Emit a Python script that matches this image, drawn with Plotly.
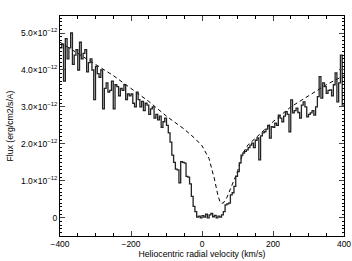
import plotly.graph_objects as go

# Observed spectrum: 5 km/s bins starting at -400 km/s; flux in units of 1e-12 erg/cm2/s/A
bin_width = 5
vel_start = -400
flux_e12 = [
    # -400 .. -300
    4.6, 4.7, 3.7, 4.85, 4.3, 4.6, 5.0, 4.15, 4.4, 4.55,
    4.0, 4.75, 4.3, 4.45, 4.55, 3.95, 4.2, 4.3, 4.0, 3.2,
    # -300 .. -200
    4.1, 3.9, 3.8, 4.0, 2.95, 3.5, 3.65, 3.4, 3.45, 3.7,
    2.95, 3.6, 3.55, 3.3, 3.5, 3.45, 3.6, 3.2, 3.35, 3.3,
    # -200 .. -100
    3.35, 3.1, 3.0, 3.4, 3.2, 3.0, 3.15, 2.9, 3.1, 3.05,
    2.8, 2.95, 3.0, 2.7, 2.8, 2.65, 2.75, 2.45, 2.6, 2.7,
    # -100 .. 0
    2.5, 2.3, 2.05, 1.7, 1.5, 1.32, 1.3, 0.95, 1.52, 1.5,
    1.48, 1.12, 1.1, 0.92, 0.58, 0.31, 0.17, 0.02, 0.05, 0.0,
    # 0 .. 100
    0.06, 0.02, 0.1, 0.0, 0.08, 0.12, 0.03, 0.07, 0.0, 0.05,
    0.02, 0.08, 0.17, 0.35, 0.38, 0.4, 0.62, 0.68, 0.85, 1.12,
    # 100 .. 200
    1.25, 1.49, 1.7, 1.75, 1.8, 1.84, 1.9, 1.97, 2.02, 1.9,
    2.1, 2.16, 1.57, 2.22, 2.3, 2.33, 2.4, 2.5, 2.16, 2.47,
    # 200 .. 300
    2.45, 2.56, 2.5, 2.78, 2.7, 2.6, 2.75, 2.87, 2.8, 2.33,
    3.19, 2.84, 2.9, 2.97, 2.85, 2.7, 3.05, 3.14, 3.0, 2.73,
    # 300 .. 400
    2.8, 2.84, 2.9, 2.78, 3.0, 3.28, 3.82, 3.24, 3.65, 3.55,
    3.37, 3.45, 3.46, 3.3, 3.6, 3.92, 3.14, 3.65, 4.4, 3.05,
]

# Model profile (dashed)
model_vel = [-400, -300, -250, -200, -150, -100, -50, -20, 0, 20, 35, 45, 52,
             60, 70, 80, 100, 115, 130, 150, 200, 250, 300, 350, 400]
model_e12 = [4.75, 4.15, 3.85, 3.5, 3.15, 2.75, 2.4, 2.15, 1.95, 1.6, 1.05, 0.6, 0.4,
             0.4, 0.55, 0.78, 1.25, 1.75, 1.98, 2.15, 2.6, 3.0, 3.3, 3.6, 3.85]

ytick_vals_e12 = [0, 1, 2, 3, 4, 5]
ytick_text = ["0"] + [f"{v:.1f}×10<sup>−12</sup>" for v in ytick_vals_e12[1:]]
xtick_vals = [-400, -200, 0, 200, 400]

edges = [vel_start + bin_width * i for i in range(len(flux_e12) + 1)]
step_y = [f * 1e-12 for f in flux_e12] + [flux_e12[-1] * 1e-12]

fig = go.Figure()
fig.add_trace(go.Scatter(x=model_vel, y=[v * 1e-12 for v in model_e12], mode="lines",
                         line=dict(color="black", width=1, dash="4px,3px"),
                         showlegend=False, hoverinfo="skip"))
fig.add_trace(go.Scatter(x=edges, y=step_y, mode="lines", line_shape="hv",
                         line=dict(color="#222", width=1.3), showlegend=False))

tick_font = dict(family="Liberation Sans, Arial, sans-serif", size=8.5, color="black")
title_font = dict(family="Liberation Sans, Arial, sans-serif", size=8.7, color="black")
fig.update_layout(
    width=352, height=261,
    margin=dict(l=60, r=8, t=16, b=25),
    paper_bgcolor="white", plot_bgcolor="white",
    font=tick_font,
    xaxis=dict(range=[-400, 400], tickvals=xtick_vals, ticks="inside", ticklen=5,
               showline=True, linecolor="black", linewidth=1, mirror="allticks",
               showgrid=False, zeroline=False, tickfont=tick_font, automargin=False,
               minor=dict(ticks="inside", ticklen=3, dtick=50, tickcolor="black"),
               title=dict(text="Heliocentric radial velocity (km/s)", font=title_font, standoff=1)),
    yaxis=dict(range=[-0.49e-12, 5.46e-12], tickvals=[v * 1e-12 for v in ytick_vals_e12],
               ticktext=ytick_text, ticks="inside", ticklen=5,
               showline=True, linecolor="black", linewidth=1, mirror="allticks",
               showgrid=False, zeroline=False, tickfont=tick_font, automargin=False,
               minor=dict(ticks="inside", ticklen=2, dtick=0.1e-12, tickcolor="black"),
               title=dict(text="Flux (erg/cm2/s/A)", font=title_font, standoff=5)),
)
fig.write_html("out.html")
